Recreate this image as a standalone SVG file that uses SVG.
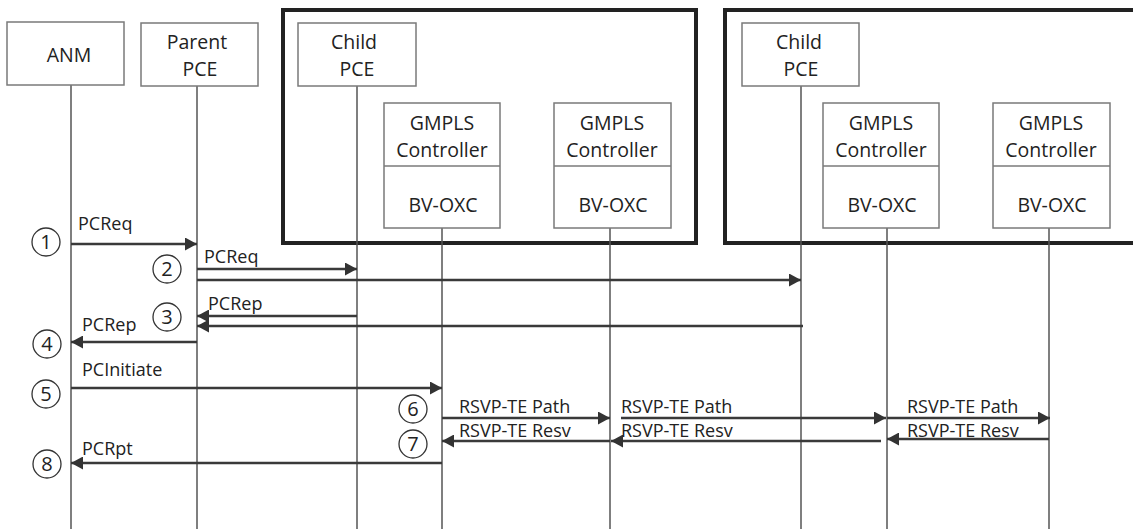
<svg xmlns="http://www.w3.org/2000/svg" width="1133" height="529" viewBox="0 0 1133 529">
<style>
.box{fill:#fff;stroke:#7a7a7a;stroke-width:1.5}
.dom{fill:none;stroke:#222;stroke-width:4}
.life{stroke:#555;stroke-width:1.5;fill:none}
.msg{stroke:#3a3a3a;stroke-width:2.6;fill:none}
.nt{font-family:"Open Sans","Liberation Sans",sans-serif;font-size:19.5px;fill:#222;text-anchor:middle}
.lbl{font-family:"Open Sans","Liberation Sans",sans-serif;font-size:18px;fill:#222}
.num{font-family:"Open Sans","Liberation Sans",sans-serif;font-size:20px;fill:#222;text-anchor:middle}
.circ{fill:#fff;stroke:#333;stroke-width:1.3}
</style>
<defs>
<marker id="ah" markerWidth="12" markerHeight="13" viewBox="0 0 12 13" refX="12" refY="6.5" orient="auto" markerUnits="userSpaceOnUse">
<path d="M0,0 L12,6.5 L0,13 z" fill="#333"/>
</marker>
</defs>
<rect width="1133" height="529" fill="#fff"/>

<g id="domain1"><rect class="dom" x="283" y="10" width="413" height="233"/></g>
<g id="domain2"><rect class="dom" x="725" y="10" width="420" height="233"/></g>

<g id="lifelines">
<line class="life" x1="71" y1="85" x2="71" y2="529"/>
<line class="life" x1="197" y1="86" x2="197" y2="529"/>
<line class="life" x1="357" y1="86" x2="357" y2="529"/>
<line class="life" x1="442" y1="228" x2="442" y2="529"/>
<line class="life" x1="610" y1="228" x2="610" y2="529"/>
<line class="life" x1="801" y1="86" x2="801" y2="529"/>
<line class="life" x1="887" y1="228" x2="887" y2="529"/>
<line class="life" x1="1049" y1="228" x2="1049" y2="529"/>
</g>

<g id="anm"><rect class="box" x="7" y="22" width="117" height="63"/><text class="nt" x="69" y="62">ANM</text></g>
<g id="parent-pce"><rect class="box" x="141" y="23" width="117" height="63"/><text class="nt" x="197" y="49">Parent</text><text class="nt" x="200" y="76">PCE</text></g>
<g id="child-pce-1"><rect class="box" x="298" y="23" width="118" height="63"/><text class="nt" x="354" y="49">Child</text><text class="nt" x="357" y="76">PCE</text></g>
<g id="gmpls-1"><rect class="box" x="384" y="103" width="116" height="125"/><line class="box" x1="384" y1="166" x2="500" y2="166"/><text class="nt" x="442" y="130">GMPLS</text><text class="nt" x="442" y="157">Controller</text><text class="nt" x="443" y="212">BV-OXC</text></g>
<g id="gmpls-2"><rect class="box" x="554" y="103" width="117" height="125"/><line class="box" x1="554" y1="166" x2="671" y2="166"/><text class="nt" x="612" y="130">GMPLS</text><text class="nt" x="612" y="157">Controller</text><text class="nt" x="613" y="212">BV-OXC</text></g>
<g id="child-pce-2"><rect class="box" x="742" y="23" width="117" height="63"/><text class="nt" x="799" y="49">Child</text><text class="nt" x="801" y="76">PCE</text></g>
<g id="gmpls-3"><rect class="box" x="823" y="103" width="116" height="125"/><line class="box" x1="823" y1="166" x2="939" y2="166"/><text class="nt" x="881" y="130">GMPLS</text><text class="nt" x="881" y="157">Controller</text><text class="nt" x="882" y="212">BV-OXC</text></g>
<g id="gmpls-4"><rect class="box" x="993" y="103" width="117" height="125"/><line class="box" x1="993" y1="166" x2="1110" y2="166"/><text class="nt" x="1051" y="130">GMPLS</text><text class="nt" x="1051" y="157">Controller</text><text class="nt" x="1052" y="212">BV-OXC</text></g>

<g id="connectors">
<line class="msg" x1="71" y1="244" x2="197" y2="244" marker-end="url(#ah)"/>
<line class="msg" x1="197" y1="269" x2="357" y2="269" marker-end="url(#ah)"/>
<line class="msg" x1="197" y1="280" x2="801" y2="280" marker-end="url(#ah)"/>
<line class="msg" x1="357" y1="316" x2="197" y2="316" marker-end="url(#ah)"/>
<line class="msg" x1="803" y1="326" x2="197" y2="326" marker-end="url(#ah)"/>
<line class="msg" x1="197" y1="342" x2="71" y2="342" marker-end="url(#ah)"/>
<line class="msg" x1="71" y1="388" x2="442" y2="388" marker-end="url(#ah)"/>
<line class="msg" x1="442" y1="418" x2="610" y2="418" marker-end="url(#ah)"/>
<line class="msg" x1="621" y1="418" x2="886" y2="418" marker-end="url(#ah)"/>
<line class="msg" x1="887" y1="418" x2="1050" y2="418" marker-end="url(#ah)"/>
<line class="msg" x1="610" y1="441" x2="442" y2="441" marker-end="url(#ah)"/>
<line class="msg" x1="881" y1="441" x2="611" y2="441" marker-end="url(#ah)"/>
<line class="msg" x1="1049" y1="439" x2="887" y2="439" marker-end="url(#ah)"/>
<line class="msg" x1="442" y1="463" x2="71" y2="463" marker-end="url(#ah)"/>
</g>

<g id="labels">
<text class="lbl" x="78" y="230">PCReq</text>
<text class="lbl" x="204" y="263">PCReq</text>
<text class="lbl" x="208" y="310">PCRep</text>
<text class="lbl" x="82" y="331">PCRep</text>
<text class="lbl" x="82" y="376">PCInitiate</text>
<text class="lbl" x="459" y="413">RSVP-TE Path</text>
<text class="lbl" x="621" y="413">RSVP-TE Path</text>
<text class="lbl" x="907" y="413">RSVP-TE Path</text>
<text class="lbl" x="459" y="437">RSVP-TE Resv</text>
<text class="lbl" x="621" y="437">RSVP-TE Resv</text>
<text class="lbl" x="907" y="437">RSVP-TE Resv</text>
<text class="lbl" x="82" y="455">PCRpt</text>
</g>

<g id="steps">
<circle class="circ" cx="46" cy="242" r="14"/><text class="num" x="46" y="249">1</text>
<circle class="circ" cx="167" cy="269" r="14"/><text class="num" x="167" y="276">2</text>
<circle class="circ" cx="167" cy="317" r="14"/><text class="num" x="167" y="324">3</text>
<circle class="circ" cx="47" cy="344" r="14"/><text class="num" x="47" y="351">4</text>
<circle class="circ" cx="46" cy="394" r="14"/><text class="num" x="46" y="401">5</text>
<circle class="circ" cx="413" cy="409" r="14"/><text class="num" x="413" y="416">6</text>
<circle class="circ" cx="413" cy="444" r="14"/><text class="num" x="413" y="451">7</text>
<circle class="circ" cx="47" cy="464" r="14"/><text class="num" x="47" y="471">8</text>
</g>
</svg>
